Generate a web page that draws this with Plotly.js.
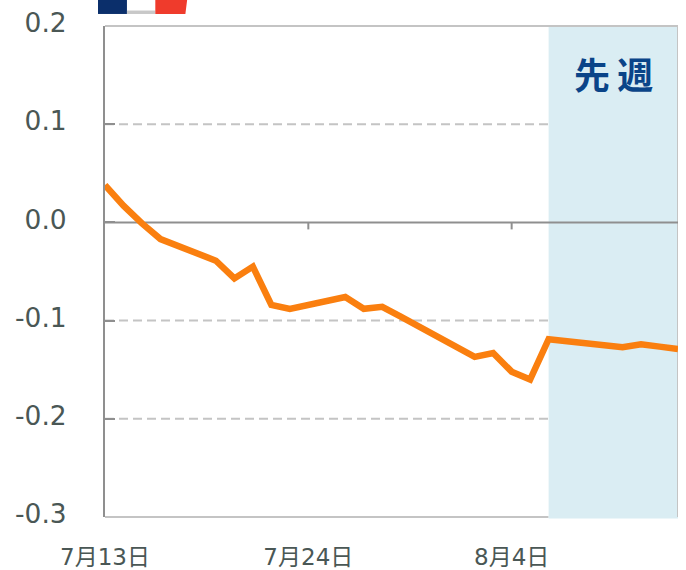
<!DOCTYPE html>
<html>
<head>
<meta charset="utf-8">
<script src="https://cdn.plot.ly/plotly-3.0.1.min.js"></script>
<style>html,body{margin:0;padding:0;background:#fff}#c{width:686px;height:570px}</style>
</head>
<body>
<div id="c"></div>
<script>
const dates = ['2021-07-13','2021-07-14','2021-07-15','2021-07-16','2021-07-19','2021-07-20','2021-07-21','2021-07-22','2021-07-23','2021-07-26','2021-07-27','2021-07-28','2021-07-29','2021-07-30','2021-08-02','2021-08-03','2021-08-04','2021-08-05','2021-08-06','2021-08-10','2021-08-11','2021-08-12','2021-08-13'];
const values = [0.038,0.017,-0.001,-0.017,-0.039,-0.057,-0.045,-0.084,-0.088,-0.076,-0.088,-0.086,-0.096,-0.106,-0.137,-0.133,-0.152,-0.160,-0.119,-0.127,-0.124,-0.1265,-0.129];
const xTickVals = ['2021-07-13','2021-07-24','2021-08-04'];
const xTickText = ['7月13日','7月24日','8月4日'];
const yTickVals = [-0.3,-0.2,-0.1,0,0.1,0.2];
const yTickText = ['-0.3','-0.2','-0.1','0.0','0.1','0.2'];
const dashedLevels = [-0.2,-0.1,0.1];
const xStart = '2021-07-13', xEnd = '2021-08-13', lastWeekStart = '2021-08-06';
const labelFont = 'DejaVu Sans, "Noto Sans CJK JP", sans-serif';
const frame = '#c4c4c4', axisDark = '#8f8f8f', textCol = '#4a5755';

const seg = (x0,y0,x1,y1,color,xref,yref) => ({type:'line',layer:'between',xref:xref||'x',yref:yref||'paper',x0,y0,x1,y1,line:{color,width:2}});
const shapes = [
  seg(xStart,0,lastWeekStart,0,frame),
  ...dashedLevels.map(v => ({type:'line',layer:'between',xref:'x',yref:'y',x0:xStart,x1:lastWeekStart,y0:v,y1:v,line:{color:frame,width:2,dash:'9px,5px'}})),
  {type:'rect',layer:'between',xref:'x',yref:'paper',x0:lastWeekStart,x1:xEnd,y0:-0.003,y1:1,fillcolor:'#daedf3',line:{width:0}},
  seg(xStart,1,xEnd,1,frame),
  seg(xEnd,0,xEnd,1,frame),
  seg(xStart,0,xEnd,0,axisDark,'x','y'),
  ...xTickVals.slice(1).map(d => ({type:'line',layer:'between',xref:'x',yref:'paper',x0:d,x1:d,y0:0.6,y1:0.6-7/491,line:{color:axisDark,width:2}})),
  // flag decoration, cut off by the top of the page
  {type:'path',layer:'above',xref:'paper',yref:'paper',path:'M -0.0122 1.0530 L -0.0122 1.0245 L 0.0383 1.0245 L 0.0383 1.0530 Z',fillcolor:'#0b2f6b',line:{width:0}},
  {type:'rect',layer:'above',xref:'paper',yref:'paper',x0:0.0383,x1:0.0878,y0:1.0245,y1:1.0315,fillcolor:'#c8c8c8',line:{width:0}},
  {type:'path',layer:'above',xref:'paper',yref:'paper',path:'M 0.0878 1.0530 L 0.0878 1.0245 L 0.1403 1.0245 L 0.1433 1.0530 Z',fillcolor:'#ef3b2c',line:{width:0}}
];

Plotly.newPlot('c',[{
  type:'scatter',mode:'lines',x:dates,y:values,
  line:{color:'#fa7f0f',width:6.5,shape:'linear'},
  hoverinfo:'skip'
}],{
  width:686,height:570,
  margin:{l:105,r:8,t:26,b:52.5},
  paper_bgcolor:'#fff',plot_bgcolor:'#fff',
  showlegend:false,
  xaxis:{
    type:'date',range:[xStart,xEnd],tickmode:'array',tickvals:xTickVals,ticktext:xTickText,
    showgrid:false,zeroline:false,showline:false,ticks:'',tickangle:0,
    tickfont:{family:labelFont,size:23,color:textCol},ticklabelstandoff:24
  },
  yaxis:{
    range:[-0.3,0.2],tickmode:'array',tickvals:yTickVals,ticktext:yTickText,
    showgrid:false,zeroline:false,
    showline:true,linecolor:axisDark,linewidth:2,
    ticks:'inside',ticklen:10,tickwidth:2,tickcolor:axisDark,
    tickfont:{family:labelFont,size:26.5,color:textCol},ticklabelstandoff:31,ticklabelshift:-3
  },
  shapes,
  annotations:[{
    xref:'x',yref:'paper',x:'2021-08-09 12:00',y:0.904,text:'<b>先\u2009週</b>',showarrow:false,
    font:{family:'"Noto Sans CJK JP"',size:36,color:'#0a4488'},xanchor:'center',yanchor:'middle'
  }]
},{staticPlot:true,displayModeBar:false});
</script>
</body>
</html>
